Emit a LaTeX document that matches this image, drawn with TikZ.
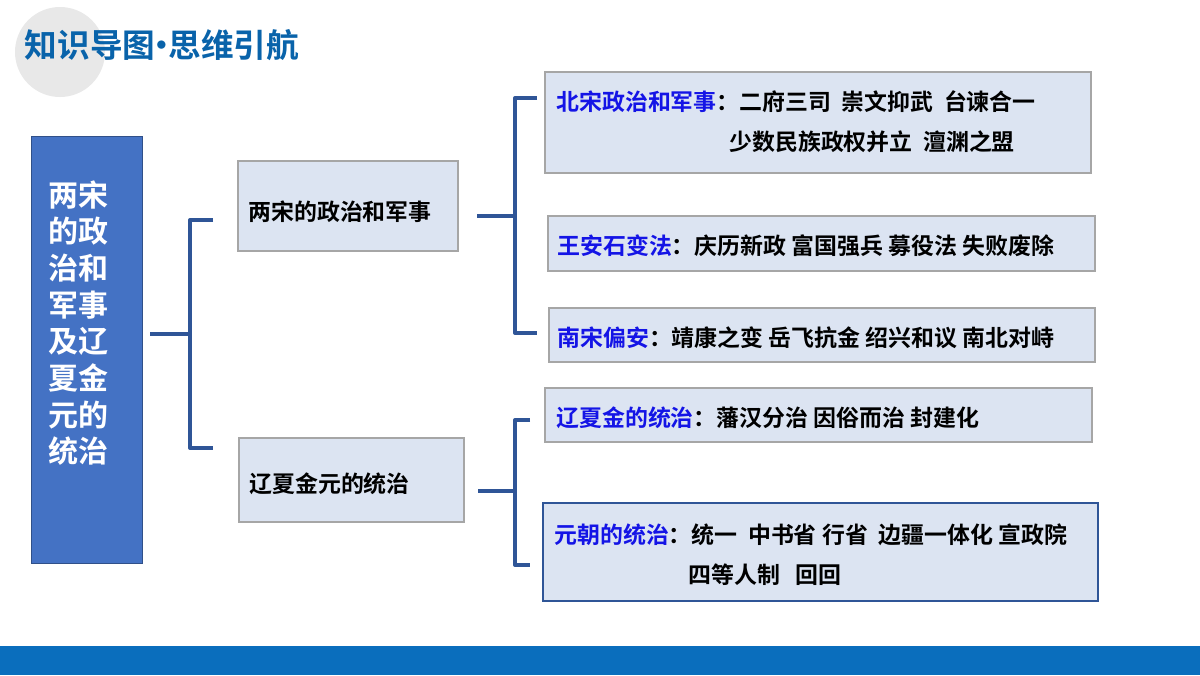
\documentclass[tikz,border=0pt]{standalone}
\usepackage{fontspec}
\setmainfont{Noto Sans CJK SC}[BoldFont={* Bold}]
\newfontfamily\cjk{Noto Sans CJK SC Bold}
\usetikzlibrary{positioning}
\definecolor{bandblue}{RGB}{10,110,189}
\definecolor{mainblue}{RGB}{68,114,196}
\definecolor{boxfill}{RGB}{220,228,242}
\definecolor{brace}{RGB}{47,85,151}
\definecolor{keyblue}{RGB}{20,20,230}
\tikzset{
  topicbox/.style={draw=gray!70,fill=boxfill,line width=0.8pt},
  brline/.style={draw=brace,line width=3pt,line join=round},
  lbl/.style={font=\cjk\fontsize{17.2}{20}\selectfont,inner sep=0pt,anchor=west},
}
\begin{document}
\begin{tikzpicture}[x=0.75pt,y=0.75pt,yscale=-1,xscale=1]
\useasboundingbox (0,0) rectangle (1200,675);
%background and title
\fill[white] (0,0) rectangle (1200,675);
\fill[gray!18] (60,52) circle (45);
\fill[bandblue] (0,646) rectangle (1200,675);
\node[anchor=west,text=bandblue!90!black,font=\cjk\fontsize{24.5}{28}\selectfont] (title) at (20,45) {知识导图\hspace{-0.3em}·\hspace{-0.3em}思维引航};
%main box
\draw[fill=mainblue,draw=mainblue!70!black] (31,136) rectangle (142,563);
\node[text=white,align=left,font=\cjk\fontsize{22.5}{27.5}\selectfont] (main) at (78,323) {两宋\\的政\\治和\\军事\\及辽\\夏金\\元的\\统治};
%middle boxes
\draw[topicbox] (238,161) rectangle (458,251);
\node[lbl] (song) at (248,212) {两宋的政治和军事};
\draw[topicbox] (239,438) rectangle (464,522);
\node[lbl] (liao) at (249,484) {辽夏金元的统治};
%right boxes
\draw[topicbox] (545,72) rectangle (1091,173);
\node[lbl] (bs) at (556,102) {\textcolor{keyblue}{北宋政治和军事}：二府三司\ \ 崇文抑武\ \ 台谏合一};
\node[lbl] (bs2) at (729,142) {少数民族政权并立\ \ 澶渊之盟};
\draw[topicbox] (548,216) rectangle (1095,271);
\node[lbl] (wa) at (557,246) {\textcolor{keyblue}{王安石变法}：庆历新政 富国强兵 募役法 失败废除};
\draw[topicbox] (549,308) rectangle (1095,362);
\node[lbl] (ns) at (557,338) {\textcolor{keyblue}{南宋偏安}：靖康之变 岳飞抗金 绍兴和议 南北对峙};
\draw[topicbox] (545,388) rectangle (1092,442);
\node[lbl] (lx) at (556,418) {\textcolor{keyblue}{辽夏金的统治}：藩汉分治 因俗而治 封建化};
\draw[topicbox,draw=brace,line width=1.5pt] (543,503) rectangle (1098,601);
\node[lbl] (yc) at (554,535) {\textcolor{keyblue}{元朝的统治}：统一\ \ 中书省 行省\ \ 边疆一体化 宣政院};
\node[lbl] (yc2) at (688,575) {四等人制\ \ \ 回回};
%braces
\draw[brline] (150,334) -- (190,334);
\draw[brline] (213,220) -- (190,220) -- (190,448) -- (213,448);
\draw[brline] (477,216) -- (515,216);
\draw[brline] (537,98) -- (515,98) -- (515,333) -- (537,333);
\draw[brline] (478,491) -- (515,491);
\draw[brline] (530,420) -- (515,420) -- (515,565) -- (530,565);
\end{tikzpicture}
\end{document}
